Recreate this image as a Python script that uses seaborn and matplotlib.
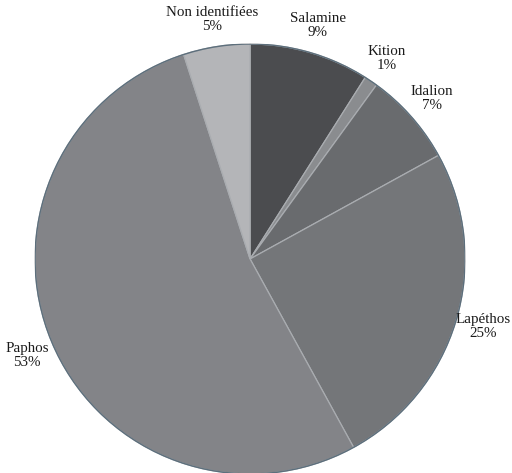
import matplotlib
matplotlib.use("Agg")
import matplotlib.pyplot as plt
import seaborn as sns

# Origin of the coins (share in percent)
sites = ["Salamine", "Kition", "Idalion", "Lapéthos", "Paphos", "Non identifiées"]
shares = [9, 1, 7, 25, 53, 5]
greys = ["#4b4c4f", "#8a8c8f", "#696b6e", "#747679", "#838488", "#b4b5b8"]

sns.set_theme(style="white")
plt.rcParams["font.family"] = ["Liberation Serif", "DejaVu Serif"]

fig = plt.figure(figsize=(5.12, 4.73), dpi=100)
ax = fig.add_axes([0.0684, -0.002, 0.84, 0.909])

labels = [f"{s}\n{v}%" for s, v in zip(sites, shares)]
wedges, texts = ax.pie(
    shares,
    labels=labels,
    colors=sns.color_palette(greys),
    startangle=90,
    counterclock=False,
    labeldistance=1.13,
    radius=1.0,
    wedgeprops=dict(edgecolor="#a9acb0", linewidth=0.9),
    textprops=dict(fontsize=10.8, color="#1a1a1a",
                   fontfamily=["Liberation Serif", "DejaVu Serif"]),
)
for t in texts:
    t.set_ha("center")
    t.set_va("center")
    t.set_multialignment("center")
    t.set_linespacing(1.1)
    t.set_clip_on(False)

# Soft outer rim of the disc
rim = plt.Circle((0, 0), 1.0, fill=False, edgecolor="#5d6f7c", linewidth=1.0)
ax.add_patch(rim)

ax.set_xlim(-1, 1)
ax.set_ylim(-1, 1)
ax.set_aspect("equal")
ax.axis("off")

fig.savefig("out.png", dpi=100)
